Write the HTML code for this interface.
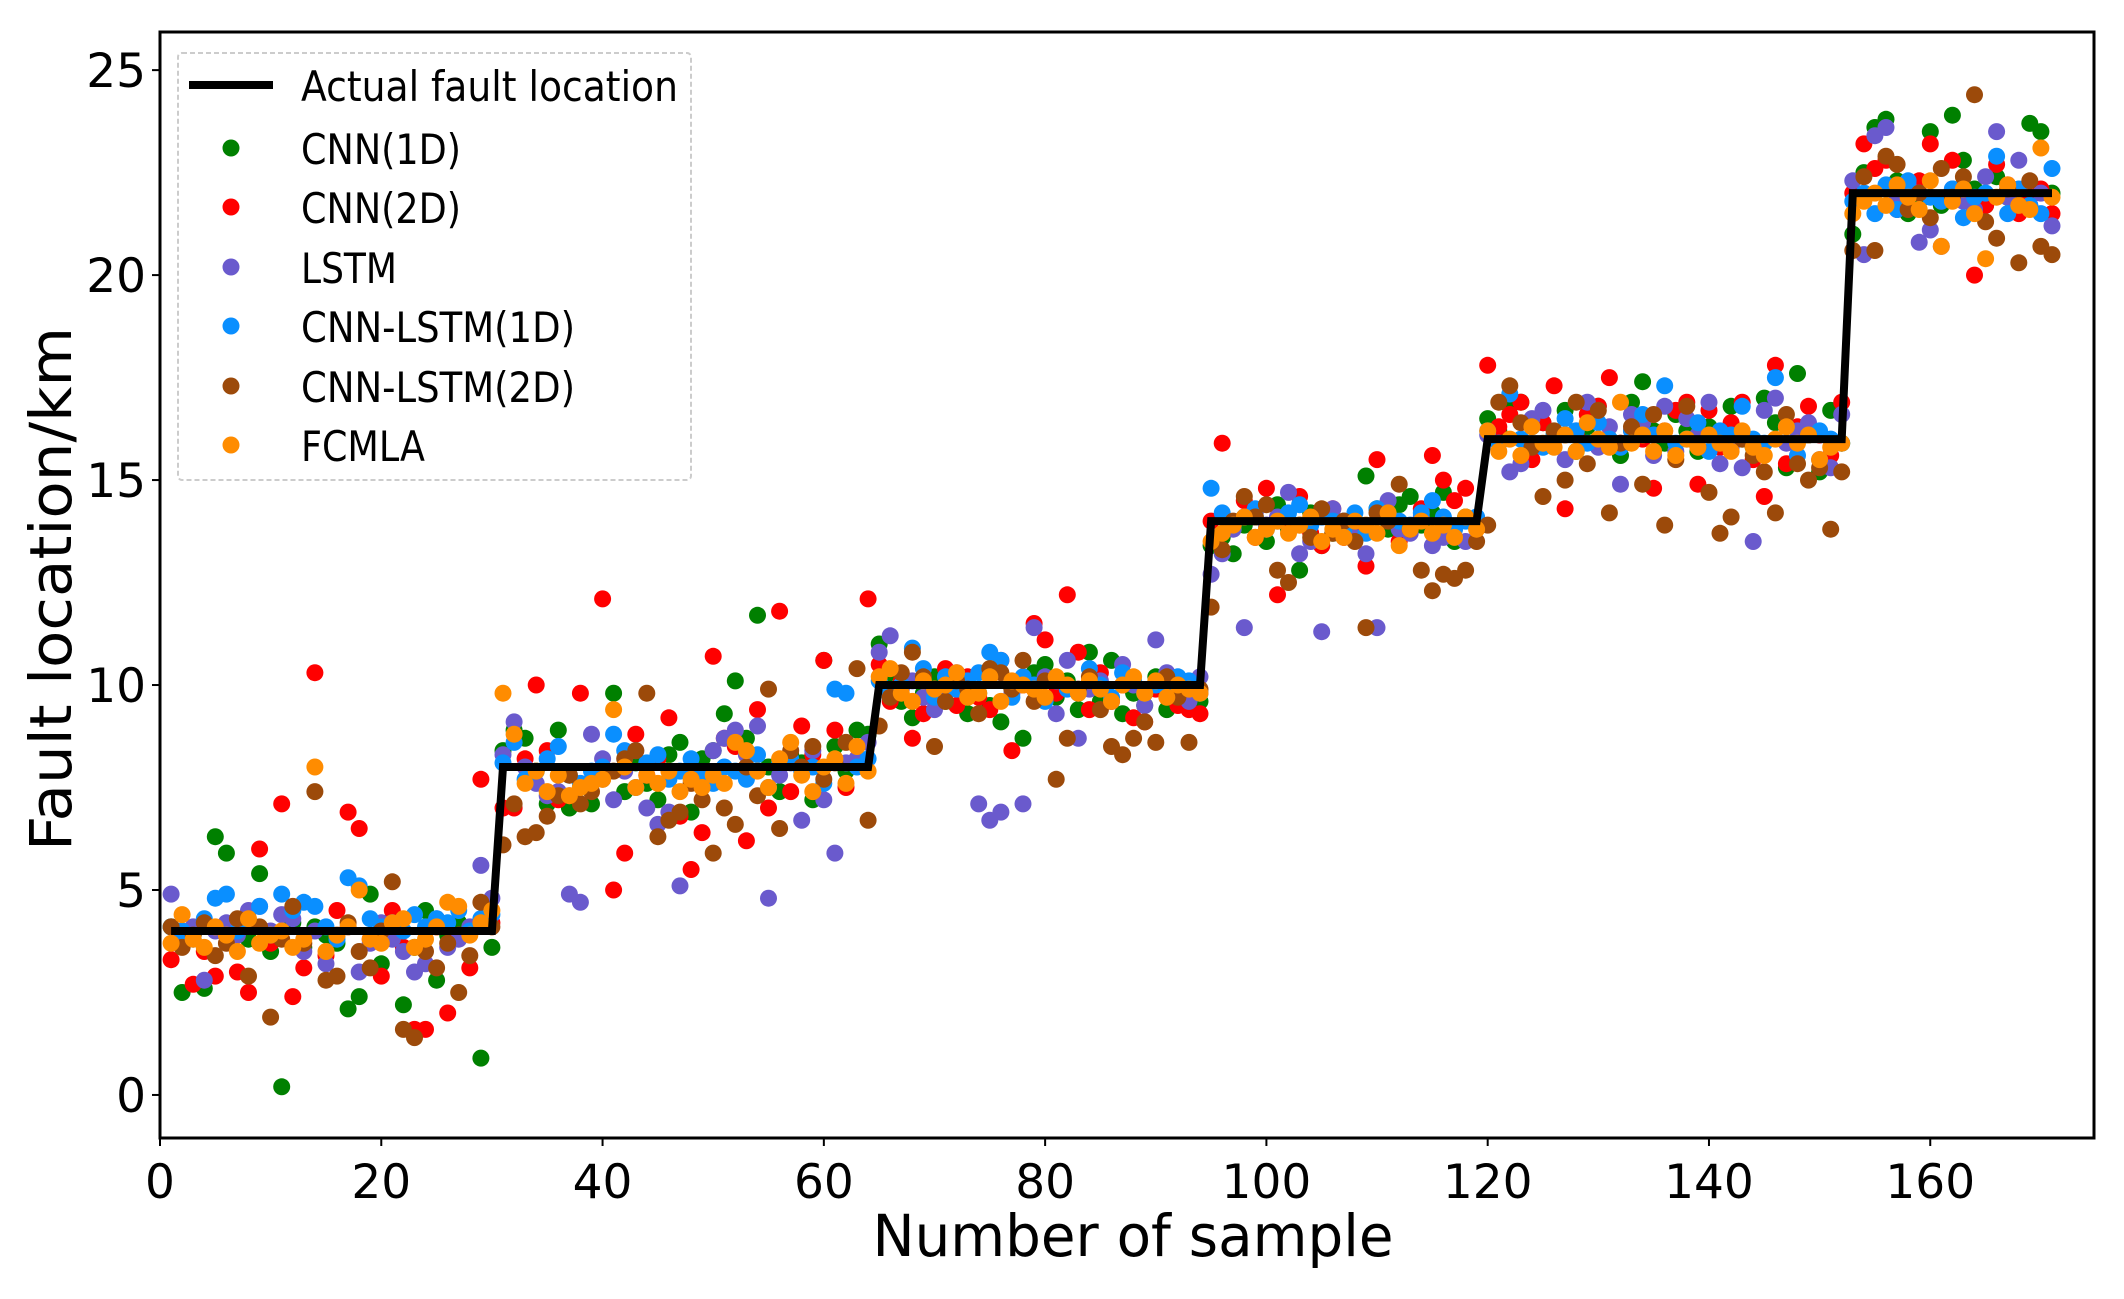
<!DOCTYPE html>
<html><head><meta charset="utf-8"><style>
html,body{margin:0;padding:0;background:#fff;}
svg{display:block;}
text{font-family:"DejaVu Sans","Liberation Sans",sans-serif;fill:#000;}
</style></head>
<body>
<svg id="chart" width="2124" height="1299" viewBox="0 0 2124 1299" xmlns="http://www.w3.org/2000/svg">
<rect x="0" y="0" width="2124" height="1299" fill="#fff"/>
<g id="marks"></g>
<g id="axes"></g>
<g id="legend"></g>
</svg>
<script>
const levels = [4, 8, 10, 14, 16, 22];
const levelCounts = [30, 34, 30, 25, 33, 19];
const xTicks = [0, 20, 40, 60, 80, 100, 120, 140, 160];
const yTicks = [0, 5, 10, 15, 20, 25];
const seriesNames = ["CNN(1D)", "CNN(2D)", "LSTM", "CNN-LSTM(1D)", "CNN-LSTM(2D)", "FCMLA"];
const seriesColors = ["#008000", "#ff0000", "#6a5acd", "#0a8fff", "#9c4a0a", "#ff8c00"];
const cnn1d = [4.1,2.5,3.9,2.6,6.3,5.9,4.0,3.8,5.4,3.5,0.2,4.2,3.6,4.1,3.9,3.7,2.1,2.4,4.9,3.2,4.3,2.2,3.6,4.5,2.8,3.9,4.2,4.0,0.9,3.6,
8.4,8.9,8.7,7.9,7.1,8.9,7.0,7.5,7.1,7.8,9.8,7.4,8.1,7.6,7.2,8.3,8.6,6.9,8.2,8.4,9.3,10.1,8.7,11.7,8.0,7.4,8.3,8.1,7.2,10.6,8.5,7.9,8.9,8.8,
11.0,10.3,9.6,9.2,9.8,10.2,9.6,10.1,9.3,9.8,9.5,9.1,9.9,8.7,10.3,10.5,9.7,10.1,9.4,10.8,9.6,10.6,9.3,9.8,9.5,10.2,9.4,9.7,9.9,9.6,
13.4,13.6,13.2,13.9,14.1,13.5,14.4,13.8,12.8,14.2,13.4,13.7,14.0,13.6,15.1,14.3,13.8,14.4,14.6,13.9,14.2,14.7,13.5,14.1,13.9,
16.5,16.2,16.8,16.9,15.8,16.4,16.1,16.7,15.7,16.3,16.8,16.0,15.6,16.9,17.4,16.2,15.9,16.6,16.2,15.7,16.3,16.1,16.8,16.0,15.8,17.0,16.4,15.3,17.6,16.1,15.2,16.7,15.9,
21.0,22.5,23.6,23.8,22.3,21.5,21.8,23.5,21.7,23.9,22.8,22.1,21.7,22.4,21.9,21.8,23.7,23.5,22.0];
const cnn2d = [3.3,4.0,2.7,3.5,2.9,3.9,3.0,2.5,6.0,3.7,7.1,2.4,3.1,10.3,3.4,4.5,6.9,6.5,3.8,2.9,4.5,3.6,1.6,1.6,4.1,2.0,3.9,3.1,7.7,4.2,
7.0,7.0,8.2,10.0,8.4,7.2,7.3,9.8,7.6,12.1,5.0,5.9,8.8,7.8,8.2,9.2,6.8,5.5,6.4,10.7,8.7,8.5,6.2,9.4,7.0,11.8,7.4,9.0,8.3,10.6,8.9,7.5,8.2,12.1,
10.5,9.6,10.1,8.7,9.3,9.9,10.4,9.5,10.2,9.7,9.4,10.6,8.4,10.0,11.5,11.1,9.8,12.2,10.8,9.4,10.3,9.6,10.0,9.2,9.1,9.9,10.2,9.5,9.4,9.3,
14.0,15.9,13.9,14.5,13.6,14.8,12.2,14.0,14.6,13.7,13.4,14.3,13.6,13.8,12.9,15.5,14.1,13.5,13.8,14.3,15.6,15.0,14.5,14.8,14.0,
17.8,16.3,16.6,16.9,15.5,16.4,17.3,14.3,16.1,16.6,16.8,17.5,15.9,16.2,16.0,14.8,16.2,16.7,16.9,14.9,16.7,15.8,16.4,16.9,15.5,14.6,17.8,15.4,16.3,16.8,16.1,15.6,16.9,
22.0,23.2,22.6,22.8,21.6,22.0,22.3,23.2,21.8,22.8,22.0,20.0,21.7,22.7,22.2,21.5,21.9,22.1,21.5];
const lstm = [4.9,3.9,4.1,2.8,4.0,4.2,3.9,4.5,4.6,4.0,4.4,4.3,3.5,4.0,3.2,3.9,4.1,3.0,3.7,4.2,3.8,3.5,3.0,3.2,4.3,3.6,3.8,4.1,5.6,4.8,
8.3,9.1,8.0,7.6,7.3,7.4,4.9,4.7,8.8,8.2,7.2,7.9,8.4,7.0,6.6,6.9,5.1,8.0,7.6,8.4,8.7,8.9,8.3,9.0,4.8,7.8,8.1,6.7,8.4,7.2,5.9,8.1,8.2,8.6,
10.8,11.2,9.9,10.1,9.7,9.4,9.8,10.3,10.0,7.1,6.7,6.9,9.8,7.1,11.4,10.2,9.3,10.6,8.7,9.9,10.1,9.6,10.5,10.0,9.5,11.1,10.3,9.8,9.6,10.2,
12.7,13.2,13.8,11.4,14.2,13.9,14.1,14.7,13.2,13.5,11.3,14.3,14.0,13.6,13.2,11.4,14.5,13.8,13.7,14.1,13.4,13.6,13.8,13.5,13.9,
16.1,15.9,15.2,15.4,16.5,16.7,16.0,15.5,16.2,16.9,15.8,16.3,14.9,16.6,16.4,15.6,16.8,15.7,16.5,16.1,16.9,15.4,15.8,15.3,13.5,16.7,17.0,15.9,16.2,16.4,15.5,15.3,16.6,
22.3,20.5,23.4,23.6,21.9,22.2,20.8,21.1,20.7,22.1,21.8,21.6,22.4,23.5,21.9,22.8,21.7,22.0,21.2];
const cnnLstm1d = [4.1,4.0,3.8,4.3,4.8,4.9,4.0,4.2,4.6,3.9,4.9,4.5,4.7,4.6,4.1,3.8,5.3,5.1,4.3,4.1,4.2,4.0,4.4,4.1,4.3,4.2,4.5,4.0,4.3,4.4,
8.1,8.6,7.7,7.9,8.2,8.5,7.8,7.6,7.9,8.0,8.8,8.4,7.5,8.1,8.3,7.7,7.9,8.2,7.8,7.6,8.0,7.9,7.7,8.3,7.5,8.1,8.2,7.9,8.0,7.6,9.9,9.8,8.0,8.2,
10.1,9.8,10.0,10.9,10.4,9.7,10.2,9.9,10.1,10.3,10.8,10.6,9.7,10.2,10.0,9.6,10.1,9.9,9.8,10.4,10.0,9.7,10.3,10.1,9.8,10.0,9.9,10.2,10.1,9.8,
14.8,14.2,13.9,14.1,14.3,13.8,14.0,14.2,14.4,13.9,14.1,14.0,13.8,14.2,13.7,14.3,14.1,14.0,13.9,14.2,14.5,14.1,13.8,14.0,14.1,
16.2,15.9,17.1,16.0,16.3,15.8,16.1,16.5,16.2,15.9,16.4,16.0,15.8,16.2,16.6,16.1,17.3,15.9,16.0,16.4,15.7,16.2,16.1,16.8,16.0,15.9,17.5,16.3,15.6,16.1,16.2,16.0,15.9,
21.8,22.0,21.5,22.2,21.6,22.3,22.0,21.9,21.8,22.1,21.4,21.9,22.0,22.9,21.5,22.1,21.7,21.5,22.6];
const cnnLstm2d = [4.1,3.6,3.9,4.2,3.4,3.7,4.3,2.9,4.1,1.9,3.8,4.6,3.7,7.4,2.8,2.9,4.2,3.5,3.1,4.0,5.2,1.6,1.4,3.5,3.1,3.7,2.5,3.4,4.7,4.1,
6.1,7.1,6.3,6.4,6.8,7.3,7.8,7.1,7.4,7.7,7.9,8.2,8.4,9.8,6.3,6.7,6.9,7.6,7.2,5.9,7.0,6.6,8.0,7.3,9.9,6.5,8.4,8.0,8.5,7.7,8.1,8.6,10.4,6.7,
9.0,9.7,10.3,10.8,10.2,8.5,9.6,10.1,9.9,9.3,10.4,10.3,9.9,10.6,9.6,10.1,7.7,8.7,9.9,10.2,9.4,8.5,8.3,8.7,9.1,8.6,10.2,9.7,8.6,9.9,
11.9,13.3,14.0,14.6,14.1,14.4,12.8,12.5,13.9,13.6,14.3,13.7,14.0,13.5,11.4,14.2,14.0,14.9,13.8,12.8,12.3,12.7,12.6,12.8,13.5,
13.9,16.9,17.3,16.4,15.8,14.6,16.2,15.0,16.9,15.4,16.7,14.2,15.9,16.3,14.9,16.6,13.9,15.5,16.8,15.8,14.7,13.7,14.1,16.0,15.6,15.2,14.2,16.6,15.4,15.0,15.3,13.8,15.2,
20.6,22.4,20.6,22.9,22.7,21.6,22.0,21.4,22.6,21.9,22.4,24.4,21.3,20.9,22.1,20.3,22.3,20.7,20.5];
const fcmla = [3.7,4.4,3.8,3.6,4.1,3.9,3.5,4.3,3.7,3.9,4.0,3.6,3.8,8.0,3.5,3.9,4.1,5.0,3.8,3.7,4.2,4.3,3.6,3.8,4.1,4.7,4.6,3.9,4.2,4.5,
9.8,8.8,7.6,7.9,7.4,7.8,7.3,7.5,7.6,7.7,9.4,8.0,7.5,7.8,7.6,7.9,7.4,7.7,7.5,7.8,7.6,8.6,8.4,7.9,7.5,8.2,8.6,7.8,7.4,8.0,8.2,7.6,8.5,7.9,
10.2,10.4,9.8,9.6,10.1,9.9,10.0,10.3,9.7,9.8,10.2,9.6,10.1,10.0,9.9,9.7,10.2,10.0,9.8,10.1,9.9,9.6,10.0,10.2,9.8,10.1,9.7,10.0,9.9,9.8,
13.5,13.7,13.9,14.1,13.6,13.8,14.0,13.7,13.9,14.1,13.5,13.8,13.6,14.0,13.9,13.7,14.2,13.4,13.8,14.0,13.7,13.9,13.6,14.1,13.8,
16.2,15.7,16.0,15.6,16.3,15.9,15.8,16.1,15.7,16.4,16.0,15.8,16.9,15.9,16.1,15.7,16.2,15.6,16.0,15.8,16.1,15.9,15.7,16.2,15.8,15.6,16.0,16.3,15.9,16.1,15.5,15.8,15.9,
21.5,21.8,22.0,21.7,22.2,21.9,21.6,22.3,20.7,21.8,22.1,21.5,20.4,21.9,22.2,21.7,21.6,23.1,21.9];
const seriesData = [cnn1d, cnn2d, lstm, cnnLstm1d, cnnLstm2d, fcmla];
const seriesKeys = ["cnn-1d", "cnn-2d", "lstm", "cnn-lstm-1d", "cnn-lstm-2d", "fcmla"];

const NS = "http://www.w3.org/2000/svg";
const PL = 160, PR = 2094, PT = 32, PB = 1138;
const XMIN = 0, XMAX = 174.8, YMIN = -1.05, YMAX = 25.93;
function sx(v){ return PL + (v - XMIN) / (XMAX - XMIN) * (PR - PL); }
function sy(v){ return PB - (v - YMIN) / (YMAX - YMIN) * (PB - PT); }
function mk(tag, attrs, parent){
  const e = document.createElementNS(NS, tag);
  for (const k in attrs) e.setAttribute(k, attrs[k]);
  parent.appendChild(e);
  return e;
}
const marks = document.getElementById('marks');
const axes = document.getElementById('axes');
const legend = document.getElementById('legend');

// actual series
const actual = [];
levels.forEach((lv, i) => { for (let k = 0; k < levelCounts[i]; k++) actual.push(lv); });

// scatter points
seriesData.forEach((arr, si) => {
  const g = mk('g', {}, marks);
  
  
  arr.forEach((v, i) => {
    const c = mk('circle', {cx: sx(i + 1).toFixed(1), cy: sy(v).toFixed(1), r: 8.5, fill: seriesColors[si]}, g);
    
    
  });
});

// actual line
const pts = actual.map((v, i) => sx(i + 1).toFixed(1) + ',' + sy(v).toFixed(1)).join(' ');
const line = mk('polyline', {points: pts, fill: 'none', stroke: '#000', 'stroke-width': 8, 'stroke-linejoin': 'miter'}, marks);



// frame
const frame = mk('rect', {x: PL, y: PT, width: PR - PL, height: PB - PT, fill: 'none', stroke: '#000', 'stroke-width': 3}, axes);



// y ticks
yTicks.forEach(t => {
  const y = sy(t);
  const tk = mk('line', {x1: PL - 8, x2: PL, y1: y, y2: y, stroke: '#000', 'stroke-width': 2}, axes);
  
  
  const lb = mk('text', {x: PL - 14, y: y + 17, 'text-anchor': 'end', 'font-size': 47}, axes);
  lb.textContent = String(t);
  
  
});
// x ticks
xTicks.forEach(t => {
  const x = sx(t);
  const tk = mk('line', {x1: x, x2: x, y1: PB, y2: PB + 8, stroke: '#000', 'stroke-width': 2}, axes);
  
  
  const lb = mk('text', {x: x, y: 1198, 'text-anchor': 'middle', 'font-size': 47}, axes);
  lb.textContent = String(t);
  
  
});
// axis titles
const xt = mk('text', {x: 1133, y: 1256, 'text-anchor': 'middle', 'font-size': 58, textLength: 521, lengthAdjust: 'spacingAndGlyphs'}, axes);
xt.textContent = 'Number of sample';


const yt = mk('text', {x: 0, y: 0, 'text-anchor': 'middle', 'font-size': 58, textLength: 524, lengthAdjust: 'spacingAndGlyphs', transform: 'translate(71,589) rotate(-90)'}, axes);
yt.textContent = 'Fault location/km';



// legend
const lbox = mk('rect', {x: 178, y: 53, width: 513, height: 427, rx: 4, fill: '#fff', 'fill-opacity': 0.8, stroke: '#cccccc', 'stroke-width': 2, 'stroke-dasharray': '5,3'}, legend);


const entryY = [85, 148, 207, 267, 326, 386, 445];
const ll = mk('line', {x1: 189, x2: 273, y1: entryY[0], y2: entryY[0], stroke: '#000', 'stroke-width': 8}, legend);


const lt0 = mk('text', {x: 301, y: entryY[0] + 16, 'font-size': 42, textLength: 377, lengthAdjust: 'spacingAndGlyphs'}, legend);
lt0.textContent = 'Actual fault location';


const legendWidths = [160, 160, 96, 274, 274, 124];
seriesNames.forEach((n, i) => {
  const y = entryY[i + 1];
  const c = mk('circle', {cx: 231, cy: y, r: 8.5, fill: seriesColors[i]}, legend);
  
  
  const t = mk('text', {x: 301, y: y + 16, 'font-size': 42, textLength: legendWidths[i], lengthAdjust: 'spacingAndGlyphs'}, legend);
  t.textContent = n;
  
  
});
</script>
</body></html>
